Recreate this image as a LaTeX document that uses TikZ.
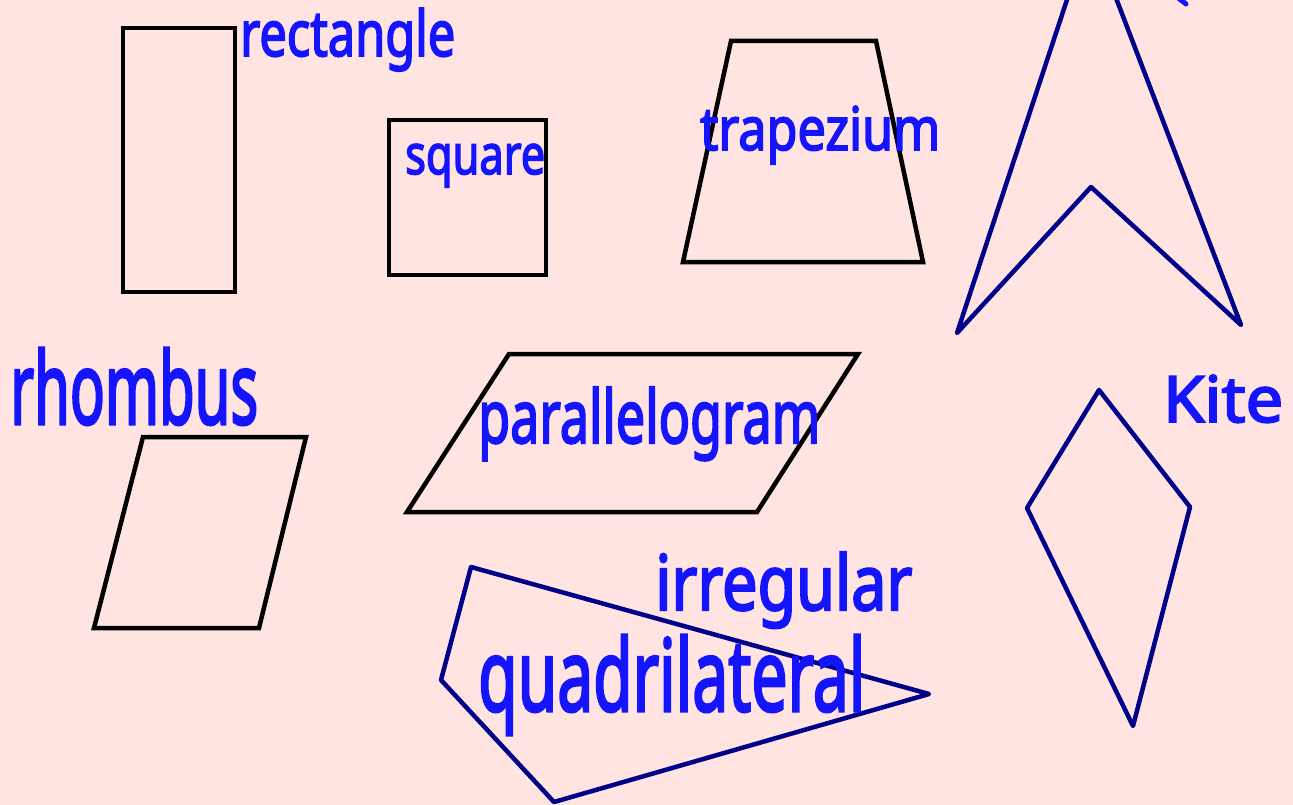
\documentclass[tikz,border=0pt]{standalone}
\usepackage{fontspec}
\setmainfont{Noto Sans}
\newfontfamily\hwfont{Noto Sans}[FakeBold=3]
\usepackage{graphicx}
\definecolor{bgpink}{RGB}{255,228,225}
\definecolor{navyline}{RGB}{0,0,139}
\definecolor{inkblue}{RGB}{20,20,255}
\tikzset{
  blackshape/.style={draw=black,line width=4.5pt},
  navyshape/.style={draw=navyline,line width=4.5pt,line join=round,line cap=round},
  lbl/.style={text=inkblue,inner sep=0pt,anchor=base west,font=\hwfont},
}
\newcommand\hwtext[3]{\resizebox{#1pt}{#2pt}{#3}}
\begin{document}
\begin{tikzpicture}[x=1pt,y=-1pt]
\useasboundingbox (0,0) rectangle (1293,805);
\fill[bgpink] (0,0) rectangle (1293,805);
% black shapes
\draw[blackshape] (123,28) rectangle (235,292);
\draw[blackshape] (389,120) rectangle (546,275);
\draw[blackshape] (731,41) -- (876,41) -- (923,262) -- (683,262) -- cycle;
\draw[blackshape] (143,437) -- (306,437) -- (259,628) -- (94,628) -- cycle;
\draw[blackshape] (509,354) -- (858,354) -- (757,512) -- (407,512) -- cycle;
% navy shapes
\draw[navyshape] (1090,-70) -- (1241,325) -- (1091,187) -- (957,333) -- cycle;
\draw[navyshape] (1099,390) -- (1190,507) -- (1133,726) -- (1027,508) -- cycle;
\draw[navyshape] (471,567) -- (929,694) -- (554,802) -- (441,680) -- cycle;
% labels
\node[lbl] (lrect)  at (240,56)  {\hwtext{215}{48}{rectangle}};
\node[lbl] (lsq)    at (405,174) {\hwtext{140}{30}{square}};
\node[lbl] (ltrap)  at (700,150) {\hwtext{240}{44}{trapezium}};
\node[lbl] (lrhomb) at (10,424)  {\hwtext{248}{76}{rhombus}};
\node[lbl] (lpar)   at (478,443) {\hwtext{342}{56}{parallelogram}};
\node[lbl] (lkite)  at (1163,422){\hwtext{120}{47}{Kite}};
\node[lbl] (lirr)   at (655,610) {\hwtext{257}{58}{irregular}};
\node[lbl] (lquad)  at (478,711) {\hwtext{387}{76}{quadrilateral}};
% clipped stroke at top right
\draw[inkblue,line width=5pt,line cap=round] (1177,-3) -- (1186,4);
\end{tikzpicture}
\end{document}
